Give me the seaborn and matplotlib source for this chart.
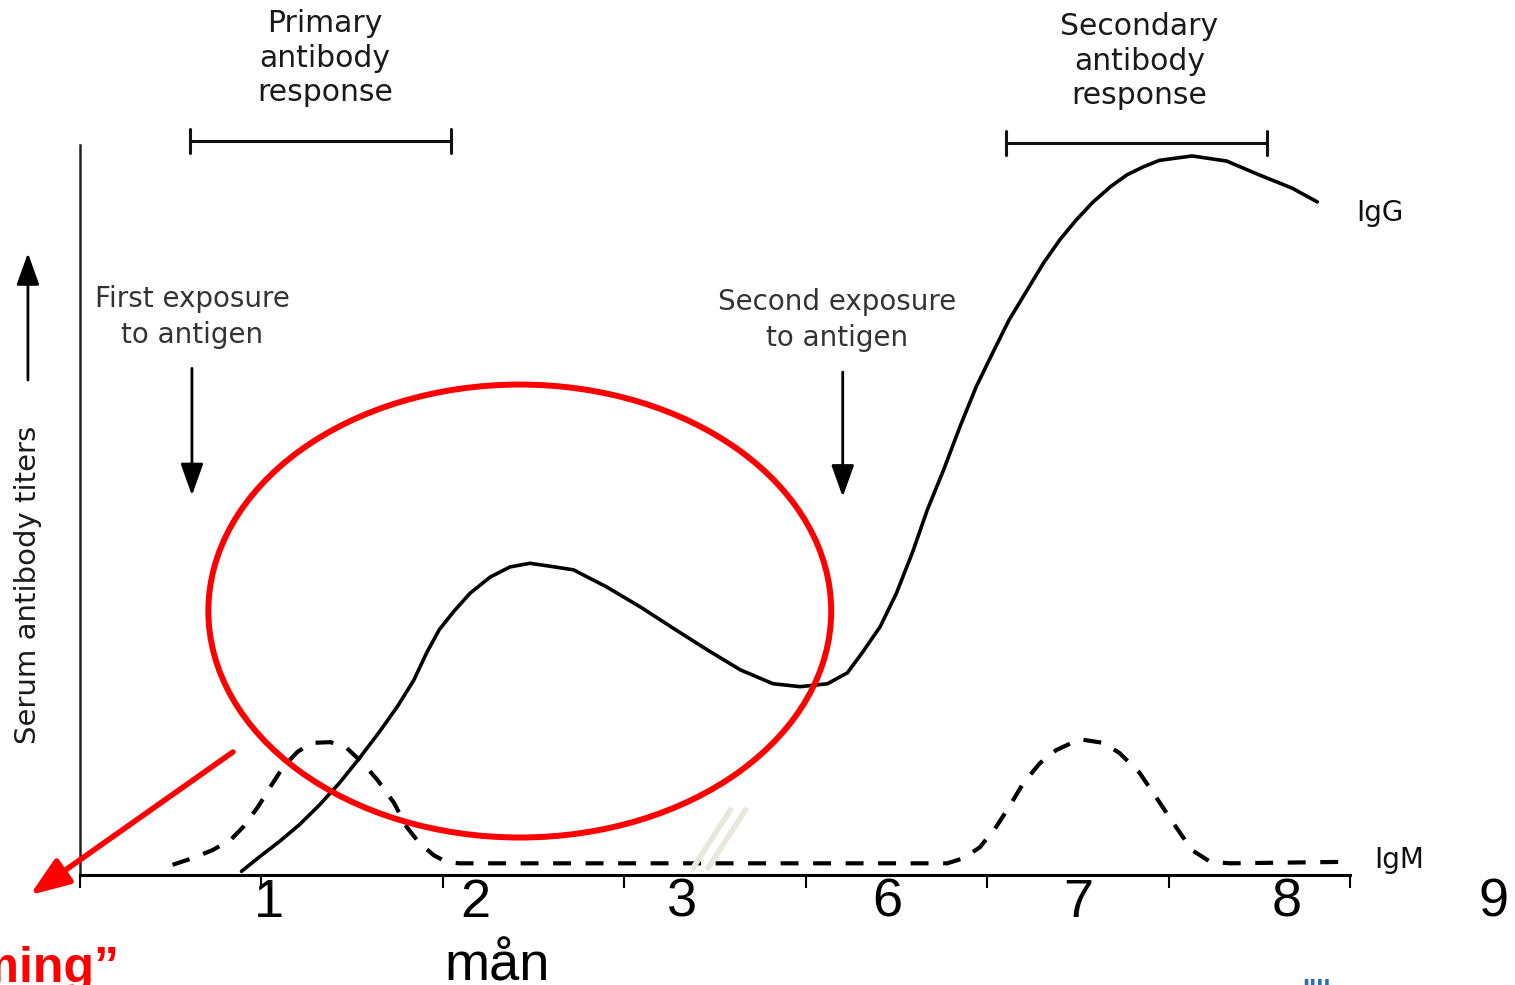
import numpy as np
import pandas as pd
import matplotlib.pyplot as plt
import seaborn as sns
from matplotlib.patches import Ellipse

# IgG (solid), x in axis units, y in % of axis height
igg_x = [0.89, 0.99, 1.10, 1.21, 1.32, 1.43, 1.54, 1.65, 1.75, 1.84, 1.91, 1.98,
         2.06, 2.15, 2.26, 2.37, 2.48, 2.59, 2.72, 2.90, 3.09, 3.27, 3.46, 3.64,
         3.82, 3.97, 4.12, 4.23, 4.31, 4.41, 4.50, 4.59, 4.67, 4.76, 4.85, 4.94,
         5.03, 5.12, 5.22, 5.31, 5.40, 5.49, 5.58, 5.68, 5.77, 5.86, 5.95, 6.13,
         6.32, 6.50, 6.68, 6.82]
igg_y = [0.5, 2.5, 4.6, 6.9, 9.6, 12.6, 16.0, 19.6, 23.1, 26.7, 30.4, 33.6,
         36.1, 38.6, 40.8, 42.2, 42.7, 42.3, 41.8, 39.5, 36.7, 33.8, 30.8, 28.1,
         26.2, 25.8, 26.2, 27.7, 30.4, 34.0, 38.6, 44.3, 50.0, 55.5, 61.4, 66.9,
         71.5, 76.0, 80.1, 83.8, 87.0, 89.7, 92.1, 94.3, 95.9, 97.0, 97.9, 98.5,
         97.8, 95.9, 94.1, 92.2]

# IgM (dashed)
igm_x = [0.51, 0.62, 0.73, 0.83, 0.90, 0.98, 1.05, 1.12, 1.20, 1.28, 1.38, 1.47,
         1.56, 1.64, 1.73, 1.80, 1.87, 1.95, 2.02, 2.09, 4.78, 4.87, 4.96, 5.05,
         5.12, 5.20, 5.29, 5.38, 5.51, 5.64, 5.73, 5.84, 5.93, 6.04, 6.13, 6.23,
         6.34, 6.97]
igm_y = [1.4, 2.3, 3.4, 4.8, 6.6, 9.3, 12.1, 14.8, 16.9, 18.1, 18.2, 17.4,
         15.3, 13.0, 9.9, 6.6, 4.4, 2.7, 1.8, 1.6, 1.6, 2.3, 3.8, 6.6,
         9.3, 12.6, 15.3, 17.1, 18.6, 18.1, 16.7, 14.0, 10.7, 6.6, 3.4, 1.8,
         1.6, 1.8]

month_labels = ['1', '2', '3', '6', '7', '8', '9']
month_label_x = [1.04, 2.18, 3.32, 4.45, 5.50, 6.65, 7.79]

igg = pd.DataFrame({'x': igg_x, 'y': igg_y})
igm = pd.DataFrame({'x': igm_x, 'y': igm_y})

sns.set_style('white')
plt.rcParams['font.family'] = ['DejaVu Sans']

fig = plt.figure(figsize=(15.15, 9.85), dpi=100)
ax = fig.add_axes([80 / 1515, 110 / 985, 1270 / 1515, 730 / 985])

sns.lineplot(data=igg, x='x', y='y', color='black', lw=2.6, estimator=None, sort=False, ax=ax)
sns.lineplot(data=igm, x='x', y='y', color='black', lw=3.0, ls=(0, (4.3, 3.5)),
             estimator=None, sort=False, ax=ax)

ax.set_xlim(0, 7)
ax.set_ylim(0, 100)
ax.set_xticks(range(8))
ax.set_xticklabels([])
ax.set_yticks([])
ax.set_xlabel('')
ax.set_ylabel('')
ax.tick_params(axis='x', bottom=True, direction='out', length=9, width=1.5, color='black')
for s in ['top', 'right']:
    ax.spines[s].set_visible(False)
ax.spines['left'].set_linewidth(1.8)
ax.spines['left'].set_color('#222222')
ax.spines['bottom'].set_linewidth(2.2)
ax.spines['bottom'].set_color('black')

# month labels (offset from the ticks like in the original)
for lx, lab in zip(month_label_x, month_labels):
    ax.text(lx, -5.75, lab, ha='center', va='baseline', fontsize=39, color='black',
            family='Liberation Sans', clip_on=False)
ax.text(2.30, -14.5, 'mån', ha='center', va='baseline', fontsize=39, color='black',
        family='Liberation Sans', clip_on=False)

# brackets
for x0, x1, yb in [(0.606, 2.044, 100.55), (5.102, 6.540, 100.27)]:
    ax.plot([x0, x1], [yb, yb], color='#111111', lw=2.2, clip_on=False)
    for xc in (x0, x1):
        ax.plot([xc, xc], [yb - 1.7, yb + 1.7], color='#111111', lw=2.2, clip_on=False)

ax.text(1.35, 111.9, 'Primary\nantibody\nresponse', ha='center', va='center',
        fontsize=21.5, color='#1a1a1a', linespacing=1.25, clip_on=False)
ax.text(5.84, 111.5, 'Secondary\nantibody\nresponse', ha='center', va='center',
        fontsize=21.5, color='#1a1a1a', linespacing=1.25, clip_on=False)

ax.text(0.617, 76.4, 'First exposure\nto antigen', ha='center', va='center',
        fontsize=20, color='#333333', linespacing=1.35)
ax.text(4.171, 76.0, 'Second exposure\nto antigen', ha='center', va='center',
        fontsize=20, color='#333333', linespacing=1.35)

arrow_kw = dict(arrowstyle='-|>,head_length=0.7,head_width=0.25', color='black',
                lw=2, mutation_scale=28, shrinkA=0, shrinkB=0)
ax.annotate('', xy=(0.617, 52.0), xytext=(0.617, 69.4), arrowprops=arrow_kw)
ax.annotate('', xy=(4.204, 51.8), xytext=(4.204, 68.9), arrowprops=arrow_kw)

ax.text(7.163, 90.7, 'IgG', ha='center', va='center', fontsize=20, color='#111111',
        clip_on=False)
ax.text(7.273, 2.05, 'IgM', ha='center', va='center', fontsize=20, color='#111111',
        clip_on=False)

ax.text(-0.287, 39.7, 'Serum antibody titers', rotation=90, ha='center', va='center',
        fontsize=21, color='#1a1a1a', clip_on=False)
ax.annotate('', xy=(-0.287, 85.2), xytext=(-0.287, 67.8), arrowprops=arrow_kw,
            annotation_clip=False)

# break marks
for xa in (3.372, 3.455):
    ax.plot([xa, xa + 0.22], [0.7, 9.2], color='#E9E7DC', lw=4, zorder=4,
            solid_capstyle='butt')

# red highlight
ax.add_patch(Ellipse((2.424, 36.16), 3.433, 62.05, fill=False, ec='#FF0000',
                     lw=4.3, zorder=6))
ax.annotate('', xy=(-0.275, -2.74), xytext=(0.843, 16.85),
            arrowprops=dict(arrowstyle='-|>,head_length=0.8,head_width=0.3',
                            color='#FF0000', lw=4, mutation_scale=30,
                            shrinkA=0, shrinkB=0),
            annotation_clip=False, zorder=6)

fig.text(119 / 1515, 3 / 985, '\u201cPriming\u201d', ha='right', va='baseline',
         fontsize=36, weight='bold', color='#FF0000', family='Liberation Sans')
fig.text(1302 / 1515, 7 / 985, 'IIII', ha='left', va='top', fontsize=14,
         weight='bold', color='#2E6DB4')

fig.savefig('out.png', dpi=100)
